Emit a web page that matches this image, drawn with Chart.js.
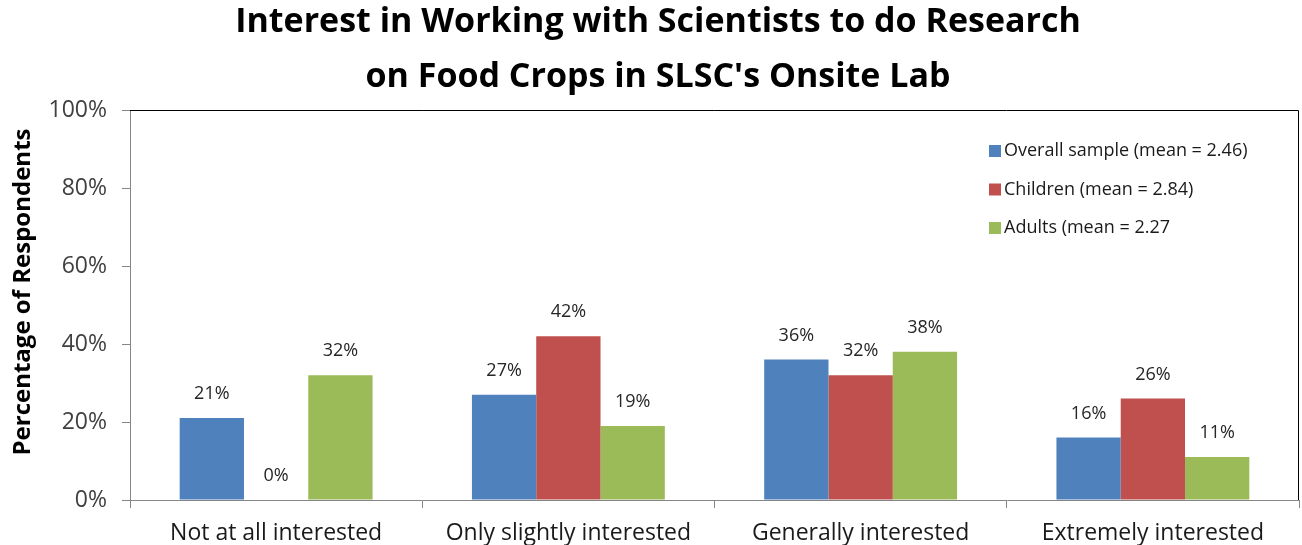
<!DOCTYPE html>
<html>
<head>
<meta charset="utf-8">
<title>Interest in Working with Scientists</title>
<script src="https://cdn.jsdelivr.net/npm/chart.js@4.4.1/dist/chart.umd.min.js"></script>
<style>
  html, body { margin: 0; padding: 0; background: #fff; }
  #wrap { width: 1302px; height: 545px; }
</style>
</head>
<body>
<div id="wrap"><canvas id="grafico"></canvas></div>
<script>
const categorias = ['Not at all interested', 'Only slightly interested', 'Generally interested', 'Extremely interested'];
const rotulosSeries = ['Overall sample (mean = 2.46)', 'Children (mean = 2.84)', 'Adults (mean = 2.27'];
const geral = [21, 27, 36, 16];
const criancas = [0, 42, 32, 26];
const adultos = [32, 19, 38, 11];
const cores = ['#4F81BD', '#C0504D', '#9BBB59'];
const ticksY = [0, 20, 40, 60, 80, 100];
const tituloLinhas = ['Interest in Working with Scientists to do Research', "on Food Crops in SLSC's Onsite Lab"];
const tituloY = 'Percentage of Respondents';

const fonte = 'Open Sans';

// titulo em duas linhas + titulo do eixo y
const titulos = {
	id: 'titulos',
	afterDraw(chart) {
		const ctx = chart.ctx;
		ctx.save();
		ctx.font = 'bold 34px "' + fonte + '"';
		ctx.fillStyle = '#000';
		ctx.textAlign = 'center';
		ctx.textBaseline = 'alphabetic';
		tituloLinhas.forEach((t, i) => ctx.fillText(t, 658, 32 + i * 55));

		ctx.translate(23, 292);
		ctx.rotate(-Math.PI / 2);
		ctx.font = 'bold 24px "' + fonte + '"';
		ctx.textBaseline = 'middle';
		ctx.fillText(tituloY, 0, 0);
		ctx.restore();
	}
};

// valores em cima das barras
const rotulosValor = {
	id: 'rotulosValor',
	afterDatasetsDraw(chart) {
		const ctx = chart.ctx;
		ctx.save();
		ctx.font = '18px "' + fonte + '"';
		ctx.fillStyle = '#262626';
		ctx.textAlign = 'center';
		ctx.textBaseline = 'middle';
		chart.data.datasets.forEach((ds, i) => {
			chart.getDatasetMeta(i).data.forEach((bar, j) => {
				ctx.fillText(ds.data[j] + '%', bar.x, bar.y - 24);
			});
		});
		ctx.restore();
	}
};

// borda da area do grafico + legenda dentro
const moldura = {
	id: 'moldura',
	afterDraw(chart) {
		const ctx = chart.ctx;
		const a = chart.chartArea;
		ctx.save();
		ctx.strokeStyle = '#000';
		ctx.lineWidth = 1;
		ctx.beginPath();
		ctx.moveTo(a.left, a.top + 0.5);
		ctx.lineTo(a.right - 0.5, a.top + 0.5);
		ctx.lineTo(a.right - 0.5, a.bottom);
		ctx.stroke();

		ctx.font = '18px "' + fonte + '"';
		ctx.textBaseline = 'middle';
		ctx.textAlign = 'left';
		chart.data.datasets.forEach((ds, i) => {
			const y = a.top + 41 + i * 38.5;
			ctx.fillStyle = ds.backgroundColor;
			ctx.fillRect(a.left + 859, y - 6, 12, 12);
			ctx.fillStyle = '#1a1a1a';
			ctx.fillText(ds.label, a.left + 874, y);
		});
		ctx.restore();
	}
};

new Chart(document.getElementById('grafico'), {
	type: 'bar',
	data: {
		labels: categorias,
		datasets: [
			{ label: rotulosSeries[0], data: geral, backgroundColor: cores[0] },
			{ label: rotulosSeries[1], data: criancas, backgroundColor: cores[1] },
			{ label: rotulosSeries[2], data: adultos, backgroundColor: cores[2] }
		]
	},
	options: {
		responsive: true,
		maintainAspectRatio: false,
		animation: false,
		events: [],
		categoryPercentage: 0.66,
		barPercentage: 1,
		layout: { padding: { left: 4, right: 3, top: 110, bottom: 0 } },
		plugins: {
			legend: { display: false },
			tooltip: { enabled: false },
			title: { display: false }
		},
		scales: {
			x: {
				afterFit(axis) { axis.height = 45; },
				border: { color: '#868686', width: 1 },
				grid: { drawOnChartArea: false, drawTicks: true, tickLength: 8, color: '#868686', offset: true },
				ticks: { color: '#1a1a1a', font: { family: fonte, size: 23 }, padding: 12, maxRotation: 0 }
			},
			y: {
				min: 0,
				max: 100,
				afterBuildTicks(axis) { axis.ticks = ticksY.map(v => ({ value: v })); },
				afterFit(axis) { axis.width = 126; },
				border: { color: '#868686', width: 1 },
				grid: { drawOnChartArea: false, drawTicks: true, tickLength: 8, color: '#868686' },
				ticks: { color: '#404040', font: { family: fonte, size: 23 }, padding: 15, callback: v => v + '%' }
			}
		}
	},
	plugins: [rotulosValor, moldura, titulos]
});
</script>
</body>
</html>
